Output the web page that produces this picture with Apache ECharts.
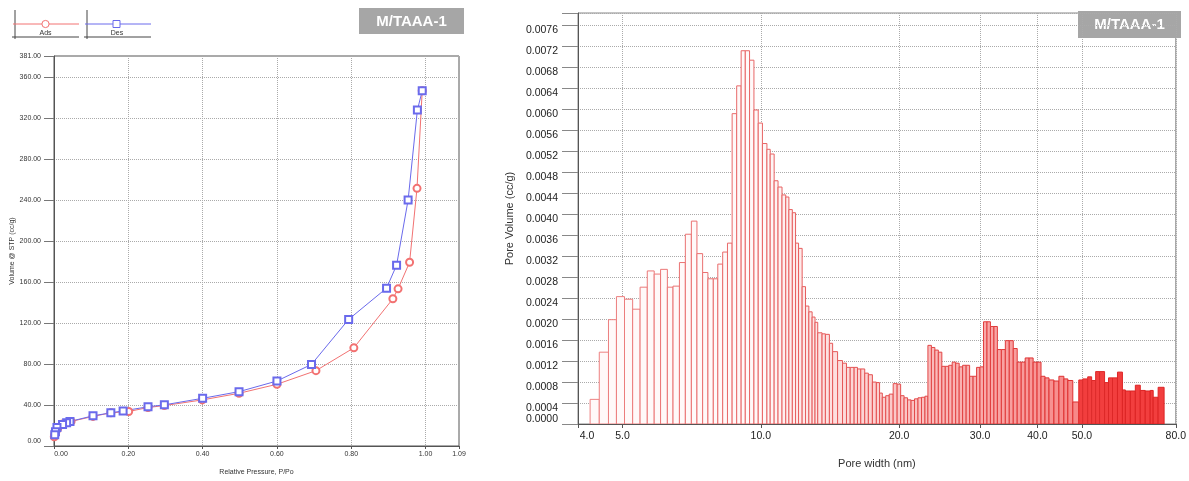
<!DOCTYPE html>
<html><head><meta charset="utf-8">
<script src="https://cdn.jsdelivr.net/npm/echarts@6/dist/echarts.min.js"></script>
<style>html,body{margin:0;padding:0;background:#fff}#c{width:1189px;height:481px}</style>
</head><body><div id="c"></div>
<script>
// ---- Isotherm (left) ----
const adsP = [0.0008, 0.002, 0.004, 0.006, 0.01, 0.023, 0.046, 0.105, 0.153, 0.201, 0.253, 0.297, 0.399, 0.498, 0.600, 0.705, 0.807, 0.912, 0.926, 0.957, 0.977, 0.991];
const adsV = [9, 11, 13, 15, 17, 21.4, 24, 28.9, 32.4, 33.7, 37.6, 39.5, 45, 51.5, 60.3, 73.6, 95.9, 143.8, 153.5, 179.5, 251.7, 347];
const desP = [0.991, 0.978, 0.953, 0.922, 0.895, 0.793, 0.693, 0.600, 0.498, 0.400, 0.297, 0.253, 0.186, 0.153, 0.105, 0.043, 0.034, 0.023, 0.008, 0.004, 0.002];
const desV = [347, 328.2, 240.3, 176.6, 154.2, 123.7, 79.7, 63.5, 53.1, 46.6, 40.2, 38.3, 34.3, 32.4, 29.5, 24, 22.7, 21, 18, 14, 11];
const seriesNames = ['Ads', 'Des'];
const panelTitle = 'M/TAAA-1';

// ---- Pore size distribution (right) ----
const poreEdges = [4.25, 4.45, 4.66, 4.85, 5.05, 5.26, 5.46, 5.66, 5.86, 6.05,
  6.26, 6.44, 6.65, 6.85, 7.06, 7.26, 7.47, 7.67, 7.88, 8.06,
  8.26, 8.46, 8.66, 8.86, 9.06, 9.25, 9.45, 9.66, 9.87, 10.08,
  10.31, 10.48, 10.69, 10.90, 11.12, 11.33, 11.51, 11.71, 11.90, 12.08,
  12.30, 12.51, 12.72, 12.93, 13.12, 13.30, 13.59, 13.82, 14.10, 14.33,
  14.69, 15.06, 15.36, 15.65, 15.96, 16.23, 16.50, 16.83, 17.14, 17.49,
  17.84, 18.13, 18.38, 18.70, 19.03, 19.41, 19.80, 20.15, 20.50, 20.86,
  21.23, 21.60, 21.98, 22.37, 22.76, 23.10, 23.51, 23.92, 24.34, 24.77,
  25.20, 25.64, 26.09, 26.55, 27.02, 27.49, 27.98, 28.47, 28.97, 29.48,
  29.99, 30.52, 31.06, 31.60, 32.16, 32.72, 33.38, 34.05, 34.73, 35.43,
  36.14, 36.87, 37.61, 38.36, 39.14, 39.92, 40.72, 41.54, 42.38, 43.44,
  44.54, 45.66, 46.58, 47.75, 49.20, 50.18, 51.45, 52.48, 53.54, 54.61,
  55.99, 57.11, 58.26, 59.73, 61.23, 62.15, 63.71, 65.32, 66.96, 68.65,
  70.38, 71.44, 73.23, 75.45];
const poreVolume = [0.00047, 0.00137, 0.00199, 0.00243, 0.00238, 0.00219, 0.00261, 0.00292, 0.00286, 0.00295,
  0.00261, 0.00263, 0.00308, 0.00362, 0.00387, 0.00325, 0.00289, 0.00277, 0.00277, 0.00305,
  0.00328, 0.00345, 0.00592, 0.00645, 0.00712, 0.00712, 0.00694, 0.00599, 0.00574, 0.00535,
  0.00524, 0.00515, 0.00464, 0.00452, 0.00437, 0.00433, 0.00409, 0.00403, 0.00345, 0.00335,
  0.00262, 0.00225, 0.00214, 0.00204, 0.00194, 0.00174, 0.00172, 0.00171, 0.00154, 0.00138,
  0.00121, 0.00116, 0.00108, 0.00108, 0.00108, 0.00105, 0.00105, 0.00097, 0.00094, 0.00080,
  0.00079, 0.00059, 0.00051, 0.00054, 0.00057, 0.00077, 0.00076, 0.00054, 0.00050, 0.00046,
  0.00045, 0.00048, 0.00050, 0.00051, 0.00053, 0.00150, 0.00146, 0.00141, 0.00137, 0.00110,
  0.00110, 0.00112, 0.00118, 0.00116, 0.00109, 0.00112, 0.00112, 0.00091, 0.00091, 0.00108,
  0.00109, 0.00195, 0.00195, 0.00186, 0.00186, 0.00142, 0.00142, 0.00159, 0.00159, 0.00144,
  0.00118, 0.00118, 0.00126, 0.00126, 0.00118, 0.00118, 0.00091, 0.00088, 0.00084, 0.00082,
  0.00091, 0.00086, 0.00083, 0.00042, 0.00084, 0.00086, 0.00090, 0.00083, 0.00100, 0.00100,
  0.00079, 0.00088, 0.00088, 0.00099, 0.00065, 0.00063, 0.00063, 0.00074, 0.00064, 0.00063,
  0.00064, 0.00051, 0.00070];
const poreTicks = [4, 5, 10, 20, 30, 40, 50, 80];

const FONT = 'Liberation Sans, Arial, sans-serif';
const RED = '#f27272', BLUE = '#6a6aec';
const chart = echarts.init(document.getElementById('c'), null, {renderer: 'canvas'});

const bars = poreVolume.map((v, i) => [poreEdges[i], poreEdges[i + 1], v]);
const ads = adsP.map((p, i) => [p, adsV[i]]);
const des = desP.map((p, i) => [p, desV[i]]);

function mix(a, b, t) { return Math.round(a + (b - a) * t); }
function fillAmount(x) {
  if (x >= 49) return 0.9;
  if (x <= 10) return 0.03;
  return 0.03 + 0.52 * Math.log(x / 10) / Math.log(4.8);
}

const option = {
  animation: false,
  backgroundColor: '#fff',
  textStyle: {fontFamily: FONT},
  grid: [
    {left: 54, top: 56, width: 405, height: 392, show: true, borderColor: '#555', borderWidth: 1, backgroundColor: 'transparent'},
    {left: 578, top: 13, width: 603, height: 411, show: true, borderColor: '#888', borderWidth: 1, backgroundColor: 'transparent'}
  ],
  xAxis: [
    {type: 'value', gridIndex: 0, min: 0, max: 1.09, interval: 0.2,
     name: 'Relative Pressure, P/Po', nameLocation: 'middle', nameGap: 23,
     nameTextStyle: {fontSize: 7, color: '#333', fontFamily: FONT},
     axisLine: {lineStyle: {color: '#555'}},
     axisTick: {show: true, length: 3, lineStyle: {color: '#555'}},
     axisLabel: {fontSize: 7, color: '#333', margin: 5, fontFamily: FONT, showMinLabel: true, showMaxLabel: true,
       formatter: v => v === 0 ? '{f|0.00}' : v.toFixed(2),
       rich: {f: {fontSize: 7, color: '#333', padding: [0, 0, 0, 14], fontFamily: FONT}}},
     splitLine: {show: true, lineStyle: {color: '#aaa', type: 'dotted'}}},
    {type: 'log', gridIndex: 1, min: 4, max: 80, logBase: 10,
     name: 'Pore width (nm)', nameLocation: 'middle', nameGap: 34,
     nameTextStyle: {fontSize: 11, color: '#333', fontFamily: FONT},
     axisLine: {lineStyle: {color: '#555'}},
     axisTick: {show: true, length: 4, customValues: poreTicks, lineStyle: {color: '#555'}},
     axisLabel: {fontSize: 10.5, color: '#222', margin: 7, customValues: poreTicks, fontFamily: FONT,
       formatter: v => v === 4 ? '{f|4.0}' : Number(v).toFixed(1),
       rich: {f: {fontSize: 10.5, color: '#222', padding: [0, 0, 0, 18], fontFamily: FONT}}},
     splitLine: {show: true, lineStyle: {color: '#aaa', type: 'dotted'}}}
  ],
  yAxis: [
    {type: 'value', gridIndex: 0, min: 0, max: 381, interval: 40,
     name: 'Volume @ STP (cc/g)', nameLocation: 'middle', nameGap: 37,
     nameTextStyle: {fontSize: 7, color: '#333', fontFamily: FONT},
     axisLine: {lineStyle: {color: '#555'}},
     axisTick: {show: true, length: 10, lineStyle: {color: '#777'}},
     axisLabel: {fontSize: 7, color: '#333', margin: 13, fontFamily: FONT, showMinLabel: true, showMaxLabel: true,
       formatter: v => v === 0 ? '{z|0.00}' : v.toFixed(2),
       rich: {z: {fontSize: 7, color: '#333', padding: [0, 0, 9, 0], fontFamily: FONT}}},
     splitLine: {show: true, lineStyle: {color: '#aaa', type: 'dotted'}}},
    {type: 'value', gridIndex: 1, min: 0, max: 0.00784, interval: 0.0004,
     name: 'Pore Volume (cc/g)', nameLocation: 'middle', nameGap: 55,
     nameTextStyle: {fontSize: 11, color: '#333', fontFamily: FONT},
     axisLine: {lineStyle: {color: '#555'}},
     axisTick: {show: true, length: 16, lineStyle: {color: '#888'}},
     axisLabel: {fontSize: 10.5, color: '#222', margin: 20, fontFamily: FONT, showMinLabel: true, hideOverlap: false,
       formatter: v => {
         if (v > 0.0078) return '';
         const s = v.toFixed(4);
         return v === 0 ? '{z|' + s + '}' : '{n|' + s + '}';
       },
       rich: {
         n: {fontSize: 10.5, lineHeight: 9, color: '#222', padding: [10, 0, 0, 0], fontFamily: FONT},
         z: {fontSize: 10.5, lineHeight: 9, color: '#222', padding: [0, 0, 10, 0], fontFamily: FONT}
       }},
     splitLine: {show: true, lineStyle: {color: '#aaa', type: 'dotted'}}}
  ],
  series: [
    {name: seriesNames[0], type: 'line', xAxisIndex: 0, yAxisIndex: 0, data: ads,
     symbol: 'emptyCircle', symbolSize: 7, color: RED,
     lineStyle: {width: 1, color: RED}, itemStyle: {color: RED, borderWidth: 1}},
    {name: seriesNames[1], type: 'line', xAxisIndex: 0, yAxisIndex: 0, data: des,
     symbol: 'emptyRect', symbolSize: 7, color: BLUE,
     lineStyle: {width: 1, color: BLUE}, itemStyle: {color: BLUE, borderWidth: 1}},
    {type: 'custom', xAxisIndex: 1, yAxisIndex: 1, data: bars, clip: true,
     encode: {x: [0, 1], y: 2},
     renderItem: (params, api) => {
       const x0 = api.value(0), x1 = api.value(1), v = api.value(2);
       const p0 = api.coord([x0, 0]);
       const p1 = api.coord([x1, v]);
       const xm = Math.sqrt(x0 * x1);
       const a = fillAmount(xm);
       const fill = 'rgb(' + mix(255, 240, a) + ',' + mix(255, 40, a) + ',' + mix(255, 40, a) + ')';
       const t = Math.log(xm / 4) / Math.log(20);
       const s = Math.min(1, 0.3 + t * 0.75);
       const stroke = 'rgb(' + mix(245, 220, s) + ',' + mix(175, 35, s) + ',' + mix(175, 35, s) + ')';
       return {type: 'rect',
         shape: {x: p0[0], y: p1[1], width: p1[0] - p0[0], height: p0[1] - p1[1]},
         style: {fill: fill, stroke: stroke, lineWidth: 1}};
     }}
  ],
  graphic: [
    {type: 'line', shape: {x1: 15, y1: 10, x2: 15, y2: 39}, style: {stroke: '#444', lineWidth: 1}},
    {type: 'line', shape: {x1: 12, y1: 37, x2: 79, y2: 37}, style: {stroke: '#444', lineWidth: 1}},
    {type: 'line', shape: {x1: 13, y1: 24, x2: 79, y2: 24}, style: {stroke: RED, lineWidth: 1}},
    {type: 'circle', shape: {cx: 45.5, cy: 24, r: 3.6}, style: {stroke: RED, fill: '#fff', lineWidth: 1}},
    {type: 'text', x: 45.5, y: 33, style: {text: seriesNames[0], fontSize: 7, fill: '#333', align: 'center', verticalAlign: 'middle', fontFamily: FONT}},
    {type: 'line', shape: {x1: 87, y1: 10, x2: 87, y2: 39}, style: {stroke: '#444', lineWidth: 1}},
    {type: 'line', shape: {x1: 84, y1: 37, x2: 151, y2: 37}, style: {stroke: '#444', lineWidth: 1}},
    {type: 'line', shape: {x1: 85, y1: 24, x2: 151, y2: 24}, style: {stroke: BLUE, lineWidth: 1}},
    {type: 'rect', shape: {x: 113, y: 20.5, width: 7, height: 7}, style: {stroke: BLUE, fill: '#fff', lineWidth: 1}},
    {type: 'text', x: 117, y: 33, style: {text: seriesNames[1], fontSize: 7, fill: '#333', align: 'center', verticalAlign: 'middle', fontFamily: FONT}},
    {type: 'rect', shape: {x: 359, y: 8, width: 105, height: 26}, style: {fill: '#a6a6a6'}},
    {type: 'text', x: 411.5, y: 21.5, style: {text: panelTitle, fontSize: 15, fontWeight: 'bold', fill: '#fff', align: 'center', verticalAlign: 'middle', fontFamily: FONT}},
    {type: 'rect', shape: {x: 1078, y: 11, width: 103, height: 27}, style: {fill: '#a6a6a6'}},
    {type: 'text', x: 1129.5, y: 24.5, style: {text: panelTitle, fontSize: 15, fontWeight: 'bold', fill: '#fff', align: 'center', verticalAlign: 'middle', fontFamily: FONT}}
  ]
};
chart.setOption(option);
</script>
</body></html>
